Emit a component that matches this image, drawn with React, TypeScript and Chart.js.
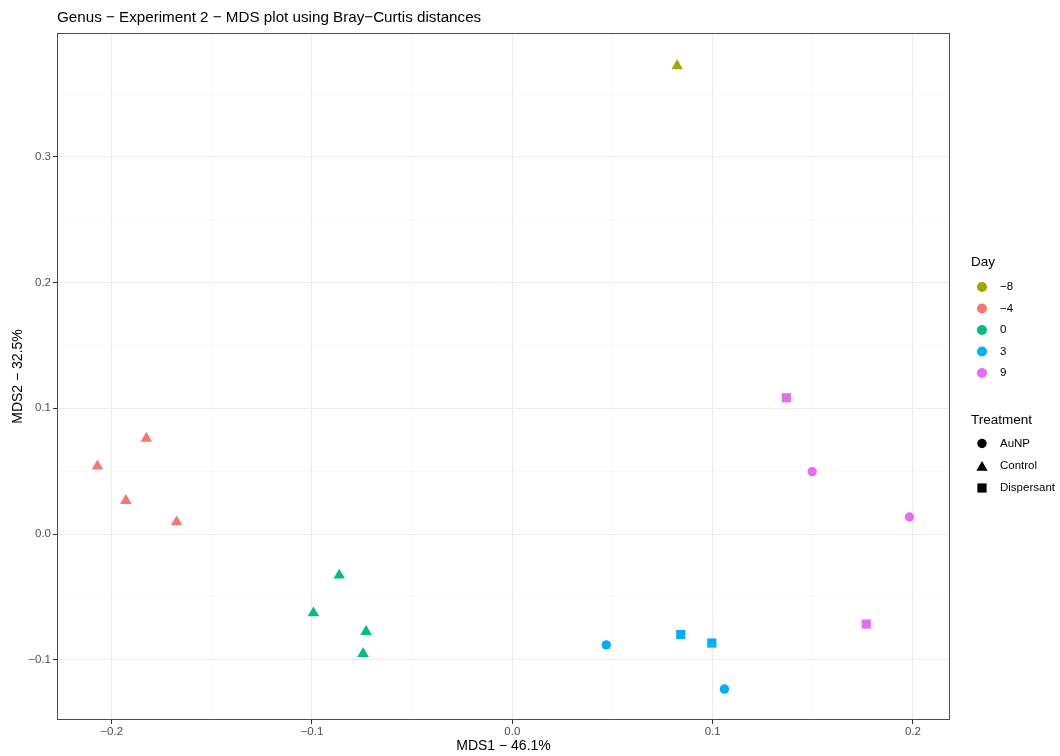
import React, { useEffect, useRef } from "react";
import { Chart, registerables } from "chart.js";

Chart.register(...registerables);

// ---- Data ----
const dayLabels = ["−8", "−4", "0", "3", "9"];
const dayColors = ["#A3A500", "#F8766D", "#00BF7D", "#00B0F6", "#E76BF3"];
const treatmentLabels = ["AuNP", "Control", "Dispersant"];
const treatmentShapes = ["circle", "triangle", "rect"];

const dayM8ControlX = [0.0823];
const dayM8ControlY = [0.3722];

const dayM4ControlX = [-0.2071, -0.1827, -0.1929, -0.1676];
const dayM4ControlY = [0.0540, 0.0760, 0.0265, 0.0095];

const day0ControlX = [-0.0864, -0.0993, -0.0730, -0.0745];
const day0ControlY = [-0.0328, -0.0628, -0.0776, -0.0951];

const day3AuNPX = [0.0469, 0.1059];
const day3AuNPY = [-0.0882, -0.1233];
const day3DispersantX = [0.0841, 0.0996];
const day3DispersantY = [-0.0799, -0.0867];

const day9AuNPX = [0.1497, 0.1983];
const day9AuNPY = [0.0495, 0.0135];
const day9DispersantX = [0.1368, 0.1767];
const day9DispersantY = [0.1083, -0.0716];

const xMajorTicks = [-0.2, -0.1, 0, 0.1, 0.2];
const xMinorTicks = [-0.15, -0.05, 0.05, 0.15];
const yMajorTicks = [-0.1, 0, 0.1, 0.2, 0.3];
const yMinorTicks = [-0.05, 0.05, 0.15, 0.25, 0.35];

const xRange = [-0.2273, 0.2185];
const yRange = [-0.1479, 0.3984];

const titleText = "Genus − Experiment 2 − MDS plot using Bray−Curtis distances";
const xTitle = "MDS1 − 46.1%";
const yTitle = "MDS2 − 32.5%";

const series = [
  { day: 0, treatment: 1, xs: dayM8ControlX, ys: dayM8ControlY },
  { day: 1, treatment: 1, xs: dayM4ControlX, ys: dayM4ControlY },
  { day: 2, treatment: 1, xs: day0ControlX, ys: day0ControlY },
  { day: 3, treatment: 0, xs: day3AuNPX, ys: day3AuNPY },
  { day: 3, treatment: 2, xs: day3DispersantX, ys: day3DispersantY },
  { day: 4, treatment: 0, xs: day9AuNPX, ys: day9AuNPY },
  { day: 4, treatment: 2, xs: day9DispersantX, ys: day9DispersantY },
];

const FONT = "'Liberation Sans', Arial, sans-serif";

const isMajor = (v: number, majors: number[]) =>
  majors.some((m) => Math.abs(m - v) < 1e-9);

const fmt = (v: number) => {
  const s = Math.abs(v) < 1e-9 ? "0.0" : v.toFixed(1);
  return s.replace("-", "−");
};

const radiusFor = (shape: string) =>
  shape === "circle" ? 4.7 : shape === "rect" ? 6.5 : 6.6;

function drawShape(ctx: CanvasRenderingContext2D, shape: string, x: number, y: number, r: number) {
  ctx.beginPath();
  if (shape === "circle") {
    ctx.arc(x, y, r, 0, Math.PI * 2);
  } else if (shape === "rect") {
    const s = r * Math.SQRT1_2;
    ctx.rect(x - s, y - s, 2 * s, 2 * s);
  } else {
    ctx.moveTo(x, y - r);
    ctx.lineTo(x + r * Math.sin((2 * Math.PI) / 3), y + r / 2);
    ctx.lineTo(x - r * Math.sin((2 * Math.PI) / 3), y + r / 2);
    ctx.closePath();
  }
  ctx.fill();
}

const decorPlugin = {
  id: "decor",
  beforeDatasetsDraw(chart: any) {
    const { ctx, chartArea } = chart;
    ctx.save();
    ctx.strokeStyle = "#4d4d4d";
    ctx.lineWidth = 1;
    ctx.strokeRect(
      Math.round(chartArea.left) + 0.5,
      Math.round(chartArea.top) + 0.5,
      Math.round(chartArea.right - chartArea.left) - 1,
      Math.round(chartArea.bottom - chartArea.top) - 1
    );
    ctx.restore();
  },
  afterDraw(chart: any) {
    const { ctx, chartArea } = chart;
    ctx.save();
    // Title
    ctx.fillStyle = "#000";
    ctx.font = `15.2px ${FONT}`;
    ctx.textAlign = "left";
    ctx.textBaseline = "middle";
    ctx.fillText(titleText, chartArea.left, 17.5);

    // Legend: Day
    ctx.font = `13.5px ${FONT}`;
    ctx.fillText("Day", 971, 262);
    ctx.font = `11.5px ${FONT}`;
    const dayYs = [287, 308.5, 330, 351.5, 373];
    dayLabels.forEach((lab, i) => {
      ctx.fillStyle = dayColors[i];
      drawShape(ctx, "circle", 982, dayYs[i], 5);
      ctx.fillStyle = "#000";
      ctx.fillText(lab, 1000, dayYs[i]);
    });

    // Legend: Treatment
    ctx.font = `13.5px ${FONT}`;
    ctx.fillText("Treatment", 971, 420);
    ctx.font = `11.5px ${FONT}`;
    const trYs = [443.5, 466, 488];
    treatmentLabels.forEach((lab, i) => {
      ctx.fillStyle = "#000";
      const shp = treatmentShapes[i];
      drawShape(ctx, shp, 982, trYs[i] + (shp === "triangle" ? 1.5 : 0), radiusFor(shp));
      ctx.fillText(lab, 1000, trYs[i]);
    });
    ctx.restore();
  },
};

export default function App() {
  const ref = useRef<HTMLCanvasElement | null>(null);

  useEffect(() => {
    document.body.style.margin = "0";
    const canvas = ref.current;
    if (!canvas) return;

    const datasets = series.map((s) => {
      const shape = treatmentShapes[s.treatment];
      return {
        label: `${dayLabels[s.day]} ${treatmentLabels[s.treatment]}`,
        data: s.xs.map((x, i) => ({ x, y: s.ys[i] })),
        pointStyle: shape,
        pointRadius: radiusFor(shape),
        pointHoverRadius: radiusFor(shape),
        backgroundColor: dayColors[s.day],
        borderColor: dayColors[s.day],
        borderWidth: 0,
        showLine: false,
      };
    });

    const gridColor = (majors: number[]) => (c: any) =>
      c.tick && isMajor(c.tick.value, majors) ? "#EBEBEB" : "#F3F3F3";
    const gridWidth = (majors: number[]) => (c: any) =>
      c.tick && isMajor(c.tick.value, majors) ? 1 : 0.6;
    const tickColor = (majors: number[]) => (c: any) =>
      c.tick && isMajor(c.tick.value, majors) ? "#333333" : "rgba(0,0,0,0)";

    const chart = new Chart(canvas, {
      type: "scatter",
      data: { datasets: datasets as any },
      plugins: [decorPlugin],
      options: {
        animation: false,
        responsive: false,
        devicePixelRatio: 1,
        layout: { padding: { left: 0, top: 33, right: 110, bottom: 0 } },
        plugins: {
          legend: { display: false },
          title: { display: false },
          tooltip: { enabled: false },
        },
        scales: {
          x: {
            type: "linear",
            min: xRange[0],
            max: xRange[1],
            afterBuildTicks: (scale: any) => {
              scale.ticks = [...xMajorTicks, ...xMinorTicks]
                .sort((a, b) => a - b)
                .map((v) => ({ value: v }));
            },
            afterFit: (scale: any) => {
              scale.height = 36;
            },
            border: { display: false },
            grid: {
              color: gridColor(xMajorTicks),
              lineWidth: gridWidth(xMajorTicks),
              tickColor: tickColor(xMajorTicks),
              tickLength: 4,
              drawTicks: true,
            },
            ticks: {
              autoSkip: false,
              maxRotation: 0,
              padding: 1,
              color: "#4d4d4d",
              font: { family: FONT, size: 11.5 },
              callback: (v: any) => (isMajor(Number(v), xMajorTicks) ? fmt(Number(v)) : ""),
            },
            title: {
              display: true,
              text: xTitle,
              color: "#000",
              font: { family: FONT, size: 14 },
              padding: { top: 0, bottom: 1 },
            },
          },
          y: {
            type: "linear",
            min: yRange[0],
            max: yRange[1],
            afterBuildTicks: (scale: any) => {
              scale.ticks = [...yMajorTicks, ...yMinorTicks]
                .sort((a, b) => a - b)
                .map((v) => ({ value: v }));
            },
            afterFit: (scale: any) => {
              scale.width = 57;
            },
            border: { display: false },
            grid: {
              color: gridColor(yMajorTicks),
              lineWidth: gridWidth(yMajorTicks),
              tickColor: tickColor(yMajorTicks),
              tickLength: 4,
              drawTicks: true,
            },
            ticks: {
              autoSkip: false,
              padding: 2,
              color: "#4d4d4d",
              font: { family: FONT, size: 11.5 },
              callback: (v: any) => (isMajor(Number(v), yMajorTicks) ? fmt(Number(v)) : ""),
            },
            title: {
              display: true,
              text: yTitle,
              color: "#000",
              font: { family: FONT, size: 14 },
              padding: { top: 10, bottom: 0 },
            },
          },
        },
      },
    } as any);

    return () => chart.destroy();
  }, []);

  return (
    <div style={{ position: "fixed", left: 0, top: 0, width: 1060, height: 756, background: "#fff" }}>
      <canvas ref={ref} width={1060} height={756} style={{ display: "block" }} />
    </div>
  );
}
